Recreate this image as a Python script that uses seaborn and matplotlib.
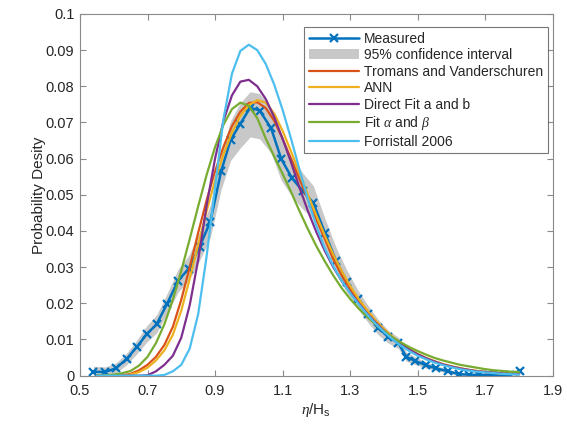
import numpy as np
import pandas as pd
import matplotlib
matplotlib.use("Agg")
import matplotlib.pyplot as plt
from matplotlib.lines import Line2D
from matplotlib.patches import Patch
import seaborn as sns

# Measured probability density of normalised crest height
meas_x = [0.540, 0.574, 0.606, 0.638, 0.668, 0.698, 0.727, 0.757, 0.791, 0.822,
          0.854, 0.886, 0.918, 0.946, 0.975, 1.004, 1.032, 1.066, 1.096, 1.128,
          1.160, 1.191, 1.225, 1.258, 1.290, 1.322, 1.352, 1.383, 1.413, 1.443,
          1.466, 1.492, 1.524, 1.555, 1.590, 1.622, 1.652, 1.682, 1.712, 1.742,
          1.772, 1.804]
meas_y = [0.0011, 0.0010, 0.0020, 0.0046, 0.0079, 0.0115, 0.0142, 0.0197, 0.0263, 0.0296,
          0.0356, 0.0426, 0.0565, 0.0652, 0.0697, 0.0741, 0.0733, 0.0684, 0.0599, 0.0546,
          0.0510, 0.0478, 0.0395, 0.0318, 0.0260, 0.0211, 0.0171, 0.0133, 0.0107, 0.0090,
          0.0052, 0.0041, 0.0029, 0.0020, 0.0012, 0.0004, 0.0003, 0.0002, 0.0002, 0.0001,
          0.0002, 0.0014]
ci_low = [0.0000, 0.0000, 0.0007, 0.0030, 0.0060, 0.0093, 0.0118, 0.0170, 0.0232, 0.0262,
          0.0318, 0.0382, 0.0515, 0.0595, 0.0630, 0.0660, 0.0655, 0.0615, 0.0540, 0.0495,
          0.0460, 0.0435, 0.0355, 0.0282, 0.0230, 0.0185, 0.0148, 0.0113, 0.0090, 0.0075,
          0.0040, 0.0031, 0.0021, 0.0014, 0.0007, 0.0001, 0.0000, 0.0000, 0.0000, 0.0000,
          0.0000, 0.0006]
ci_high = [0.0026, 0.0024, 0.0035, 0.0062, 0.0098, 0.0138, 0.0168, 0.0225, 0.0295, 0.0332,
           0.0396, 0.0472, 0.0615, 0.0705, 0.0755, 0.0785, 0.0780, 0.0740, 0.0655, 0.0600,
           0.0560, 0.0525, 0.0435, 0.0355, 0.0292, 0.0238, 0.0195, 0.0155, 0.0125, 0.0106,
           0.0065, 0.0052, 0.0038, 0.0027, 0.0018, 0.0008, 0.0006, 0.0005, 0.0004, 0.0004,
           0.0005, 0.0022]

# Fitted distributions, sampled on a common abscissa
fit_x = [0.550, 0.575, 0.600, 0.625, 0.650, 0.675, 0.700, 0.725, 0.750, 0.775,
         0.800, 0.825, 0.850, 0.875, 0.900, 0.925, 0.950, 0.975, 1.000, 1.025,
         1.050, 1.075, 1.100, 1.125, 1.150, 1.175, 1.200, 1.225, 1.250, 1.275,
         1.300, 1.325, 1.350, 1.375, 1.400, 1.425, 1.450, 1.475, 1.500, 1.525,
         1.550, 1.575, 1.600, 1.625, 1.650, 1.675, 1.700, 1.725, 1.750, 1.775,
         1.800]
tromans = [0.0000, 0.0000, 0.0000, 0.0001, 0.0005, 0.0015, 0.0030, 0.0052, 0.0085, 0.0135,
           0.0210, 0.0300, 0.0395, 0.0485, 0.0565, 0.0633, 0.0690, 0.0730, 0.0754, 0.0756,
           0.0740, 0.0705, 0.0655, 0.0600, 0.0543, 0.0488, 0.0432, 0.0378, 0.0322, 0.0277,
           0.0240, 0.0208, 0.0178, 0.0151, 0.0127, 0.0106, 0.0088, 0.0072, 0.0059, 0.0048,
           0.0039, 0.0031, 0.0025, 0.0020, 0.0016, 0.0013, 0.0010, 0.0008, 0.0006, 0.0005,
           0.0004]
ann = [0.0000, 0.0000, 0.0000, 0.0000, 0.0003, 0.0010, 0.0022, 0.0042, 0.0070, 0.0113,
       0.0180, 0.0268, 0.0362, 0.0455, 0.0540, 0.0612, 0.0672, 0.0718, 0.0748, 0.0762,
       0.0755, 0.0725, 0.0677, 0.0620, 0.0560, 0.0500, 0.0443, 0.0387, 0.0335, 0.0289,
       0.0248, 0.0212, 0.0181, 0.0153, 0.0129, 0.0108, 0.0090, 0.0074, 0.0060, 0.0049,
       0.0040, 0.0032, 0.0026, 0.0021, 0.0016, 0.0013, 0.0010, 0.0008, 0.0006, 0.0005,
       0.0004]
direct_ab = [0.0000, 0.0000, 0.0000, 0.0000, 0.0000, 0.0000, 0.0001, 0.0012, 0.0030, 0.0055,
             0.0105, 0.0195, 0.0320, 0.0470, 0.0600, 0.0705, 0.0775, 0.0813, 0.0818, 0.0800,
             0.0765, 0.0715, 0.0655, 0.0590, 0.0520, 0.0455, 0.0397, 0.0345, 0.0300, 0.0262,
             0.0230, 0.0200, 0.0172, 0.0147, 0.0124, 0.0104, 0.0087, 0.0072, 0.0059, 0.0048,
             0.0039, 0.0031, 0.0025, 0.0020, 0.0016, 0.0012, 0.0010, 0.0008, 0.0006, 0.0005,
             0.0004]
fit_alpha_beta = [0.0000, 0.0001, 0.0003, 0.0007, 0.0013, 0.0028, 0.0052, 0.0090, 0.0142, 0.0210,
                  0.0290, 0.0378, 0.0468, 0.0555, 0.0632, 0.0694, 0.0737, 0.0755, 0.0746, 0.0712,
                  0.0656, 0.0606, 0.0558, 0.0508, 0.0455, 0.0405, 0.0358, 0.0316, 0.0277, 0.0242,
                  0.0212, 0.0186, 0.0163, 0.0142, 0.0123, 0.0106, 0.0092, 0.0079, 0.0068, 0.0058,
                  0.0049, 0.0042, 0.0036, 0.0030, 0.0026, 0.0022, 0.0018, 0.0015, 0.0013, 0.0011,
                  0.0010]
forristall = [0.0000, 0.0000, 0.0000, 0.0000, 0.0000, 0.0000, 0.0000, 0.0000, 0.0002, 0.0012,
              0.0030, 0.0075, 0.0170, 0.0330, 0.0520, 0.0710, 0.0835, 0.0898, 0.0915, 0.0900,
              0.0862, 0.0805, 0.0735, 0.0655, 0.0570, 0.0487, 0.0413, 0.0352, 0.0303, 0.0262,
              0.0228, 0.0198, 0.0170, 0.0144, 0.0121, 0.0101, 0.0083, 0.0068, 0.0055, 0.0045,
              0.0036, 0.0029, 0.0023, 0.0018, 0.0014, 0.0011, 0.0009, 0.0007, 0.0005, 0.0004,
              0.0003]

x_ticks = [0.5, 0.7, 0.9, 1.1, 1.3, 1.5, 1.7, 1.9]
y_ticks = [0, 0.01, 0.02, 0.03, 0.04, 0.05, 0.06, 0.07, 0.08, 0.09, 0.1]

fit_series = [
    ("Tromans and Vanderschuren", tromans, "#D95319"),
    ("ANN", ann, "#EDB120"),
    ("Direct Fit a and b", direct_ab, "#7E2F8E"),
    (r"Fit $\alpha$ and $\beta$", fit_alpha_beta, "#77AC30"),
    ("Forristall 2006", forristall, "#4DBEEE"),
]

sns.set_style("white")
plt.rcParams["font.family"] = ["Liberation Sans", "DejaVu Sans"]
plt.rcParams["mathtext.fontset"] = "custom"
plt.rcParams["mathtext.rm"] = "Liberation Sans"
plt.rcParams["mathtext.it"] = "Liberation Serif:italic"

text_col = "#262626"
axis_col = "#8a8a8a"

fig = plt.figure(figsize=(5.67, 4.24), dpi=100)
ax = fig.add_axes([0.141, 0.114, 0.834, 0.853])

meas = pd.DataFrame({"x": meas_x, "y": meas_y, "lo": ci_low, "hi": ci_high})
ax.fill_between(meas["x"], meas["lo"], meas["hi"], color="#c8c8c8", lw=0, zorder=1)

sns.lineplot(data=meas, x="x", y="y", ax=ax, color="#0072BD", lw=1.8,
             marker="x", markersize=6, markeredgewidth=1.6, markeredgecolor="#0072BD",
             zorder=2)

for name, vals, col in fit_series:
    line = sns.lineplot(x=fit_x, y=vals, ax=ax, color=col, lw=1.6, zorder=3)
for ln in ax.get_lines()[1:]:
    ln.set_solid_joinstyle("round")

ax.set_xlim(0.5, 1.9)
ax.set_ylim(0, 0.1)
ax.set_xticks(x_ticks)
ax.set_xticklabels([f"{v:g}" for v in x_ticks])
ax.set_yticks(y_ticks)
ax.set_yticklabels([f"{v:g}" for v in y_ticks])
ax.tick_params(direction="in", length=4, width=0.8, color=axis_col,
               labelsize=10.5, labelcolor=text_col, top=True, right=True,
               bottom=True, left=True)
ax.tick_params(axis="x", pad=6)
ax.tick_params(axis="y", pad=4)
for s in ax.spines.values():
    s.set_color(axis_col)
    s.set_linewidth(0.8)

ax.set_xlabel(r"$\eta$/H$_\mathrm{s}$", fontsize=11, color=text_col, labelpad=2)
ax.set_ylabel("Probability Desity", fontsize=11, color=text_col, labelpad=0)

handles = [
    Line2D([], [], color="#0072BD", lw=1.8, marker="x", markersize=6, markeredgewidth=1.6),
    Patch(facecolor="#c8c8c8", edgecolor="none"),
] + [Line2D([], [], color=c, lw=1.6) for _, _, c in fit_series]
labels = ["Measured", "95% confidence interval"] + [n for n, _, _ in fit_series]
leg = ax.legend(handles, labels, loc="upper right", bbox_to_anchor=(0.99, 0.965),
                fontsize=10, frameon=True, fancybox=False, handlelength=3.6,
                handletextpad=0.4, labelspacing=0.18, borderpad=0.35,
                borderaxespad=0.0)
leg.get_frame().set_edgecolor("#555555")
leg.get_frame().set_linewidth(0.8)
for t in leg.get_texts():
    t.set_color(text_col)

fig.savefig("out.png", dpi=100)
